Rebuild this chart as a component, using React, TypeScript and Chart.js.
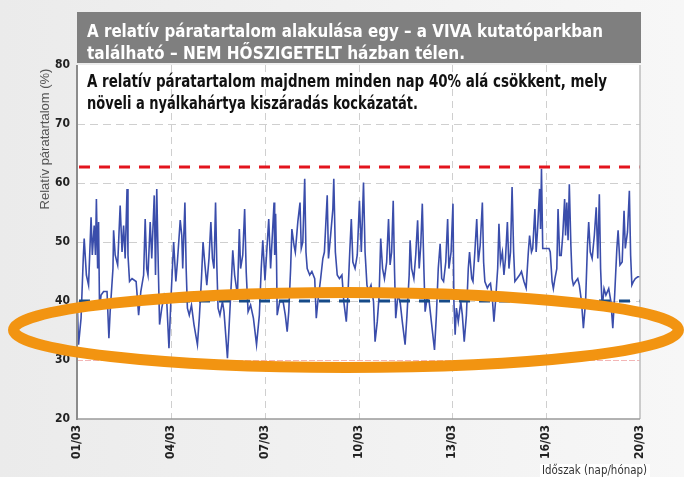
import React, { useEffect, useRef } from "react";
import { Chart, registerables } from "chart.js";

Chart.register(...registerables);

const TITLE_LINES = [
  "A relatív páratartalom alakulása egy – a VIVA kutatóparkban",
  "található – NEM HŐSZIGETELT házban télen.",
];
const SUBTITLE_LINES = [
  "A relatív páratartalom majdnem minden nap 40% alá csökkent, mely",
  "növeli a nyálkahártya kiszáradás kockázatát.",
];
const Y_AXIS_TITLE = "Relatív páratartalom (%)";
const X_AXIS_TITLE = "Időszak (nap/hónap)";

const X_TICK_DAYS = [0, 3, 6, 9, 12, 15, 18];
const X_TICK_LABELS = ["01/03", "04/03", "07/03", "10/03", "13/03", "16/03", "20/03"];
const Y_MIN = 20;
const Y_MAX = 80;
const Y_STEP = 10;

const UPPER_LIMIT = 62.7;
const LOWER_LIMIT = 40;
const MIN_LIMIT = 30;

// highlighted band (data space): centre day, centre %, half-width days, half-height %
const HIGHLIGHT = { day: 8.6, rh: 35.1, halfDays: 10.63, halfRh: 6.36 };

const DAYS = [
  0.0, 0.05, 0.13, 0.2, 0.23, 0.3, 0.37, 0.45, 0.49, 0.55, 0.59, 0.62, 0.66, 0.69, 0.72, 0.77, 0.85, 0.96,
  1.02, 1.06, 1.15, 1.17, 1.22, 1.3, 1.38, 1.44, 1.49, 1.54, 1.6, 1.63, 1.68, 1.76, 1.89, 1.97,
  2.04, 2.13, 2.18, 2.23, 2.27, 2.34, 2.39, 2.47, 2.51, 2.55, 2.6, 2.64, 2.71, 2.79, 2.87, 2.94, 3.0,
  3.09, 3.16, 3.21, 3.3, 3.35, 3.38, 3.45, 3.49, 3.53, 3.59, 3.66, 3.74, 3.85, 3.91, 3.98,
  4.03, 4.09, 4.15, 4.22, 4.28, 4.33, 4.38, 4.43, 4.47, 4.51, 4.57, 4.65, 4.7, 4.81, 4.86, 4.94, 4.98,
  5.04, 5.13, 5.19, 5.23, 5.3, 5.36, 5.41, 5.47, 5.55, 5.64, 5.74, 5.83, 5.89, 5.94, 6.01,
  6.13, 6.19, 6.3, 6.32, 6.35, 6.38, 6.4, 6.48, 6.59, 6.66, 6.72, 6.77, 6.83, 6.87, 6.94, 6.98,
  7.06, 7.13, 7.17, 7.22, 7.28, 7.32, 7.36, 7.44, 7.51, 7.6, 7.65, 7.7, 7.79, 7.86, 7.91,
  8.0, 8.04, 8.11, 8.18, 8.21, 8.26, 8.32, 8.39, 8.47, 8.53, 8.61, 8.66, 8.72, 8.77, 8.82, 8.89, 8.96,
  9.03, 9.09, 9.16, 9.21, 9.27, 9.32, 9.4, 9.48, 9.53, 9.6, 9.66, 9.71, 9.77, 9.83, 9.9, 9.96,
  10.01, 10.06, 10.11, 10.15, 10.19, 10.26, 10.33, 10.4, 10.49, 10.55, 10.62, 10.65, 10.7, 10.77, 10.83, 10.89, 10.94, 10.99,
  11.04, 11.09, 11.13, 11.19, 11.26, 11.34, 11.43, 11.49, 11.55, 11.61, 11.66, 11.72, 11.79, 11.85, 11.89, 11.96,
  12.02, 12.05, 12.09, 12.13, 12.19, 12.27, 12.32, 12.38, 12.45, 12.51, 12.55, 12.62, 12.66, 12.72, 12.78, 12.83, 12.89, 12.96,
  13.0, 13.04, 13.12, 13.17, 13.22, 13.28, 13.33, 13.38, 13.45, 13.49, 13.54, 13.6, 13.65, 13.7, 13.76, 13.81, 13.86, 13.91, 13.96,
  14.0, 14.07, 14.15, 14.21, 14.29, 14.36, 14.43, 14.47, 14.53, 14.57, 14.64, 14.68, 14.72, 14.79, 14.82, 14.85, 14.89, 14.94,
  15.0, 15.09, 15.13, 15.19, 15.23, 15.28, 15.34, 15.38, 15.43, 15.48, 15.53, 15.59, 15.62, 15.66, 15.7, 15.74, 15.79, 15.83, 15.87, 15.94,
  16.01, 16.06, 16.13, 16.19, 16.26, 16.32, 16.36, 16.41, 16.47, 16.54, 16.6, 16.65, 16.7, 16.74, 16.79, 16.85, 16.91,
  17.0, 17.07, 17.13, 17.19, 17.26, 17.3, 17.36, 17.43, 17.49, 17.53, 17.6, 17.66, 17.7, 17.74, 17.79, 17.85, 17.93, 18.0,
];

const RH = [
  41.0, 32.6, 37.1, 47.2, 50.6, 44.4, 42.7, 54.2, 47.8, 52.8, 47.8, 57.3, 45.5, 53.4, 38.8, 41.0, 41.6, 41.6,
  33.7, 38.2, 45.5, 52.0, 47.8, 46.1, 56.2, 48.3, 52.8, 47.2, 59.0, 47.8, 43.3, 43.8, 43.3, 37.6,
  41.6, 44.4, 53.9, 45.5, 44.4, 53.4, 47.2, 57.9, 44.4, 59.0, 45.5, 36.0, 38.8, 41.0, 39.9, 32.0, 39.9,
  50.0, 43.3, 46.6, 53.7, 51.1, 45.5, 56.7, 45.5, 38.8, 37.6, 39.3, 36.0, 32.6, 37.1, 43.8,
  50.0, 46.1, 42.7, 47.2, 53.4, 47.2, 45.5, 56.7, 46.1, 38.8, 37.6, 39.9, 38.2, 30.3, 35.4, 43.8, 48.6,
  44.4, 41.0, 52.2, 45.5, 47.8, 55.6, 44.9, 38.2, 39.3, 37.1, 32.6, 37.6, 45.5, 50.3, 43.5,
  53.9, 45.5, 56.7, 47.8, 54.8, 46.6, 37.6, 39.9, 39.9, 37.6, 34.8, 38.2, 45.5, 52.2, 49.4, 48.3,
  53.4, 56.7, 48.9, 50.0, 60.7, 48.3, 45.5, 44.4, 45.0, 43.8, 37.1, 39.9, 43.8, 47.2, 48.3,
  57.9, 47.2, 51.2, 55.6, 60.7, 48.3, 44.4, 43.8, 44.4, 39.9, 36.5, 40.8, 48.3, 53.9, 46.6, 45.5, 47.8,
  57.0, 48.3, 60.1, 48.3, 42.7, 41.6, 42.7, 39.9, 33.1, 36.5, 41.0, 50.6, 45.5, 43.8, 46.6, 53.9,
  46.1, 48.3, 57.0, 45.5, 37.1, 41.0, 39.9, 36.5, 32.6, 37.6, 44.4, 50.3, 45.5, 43.8, 47.8, 53.7, 45.5, 49.4,
  56.5, 45.5, 38.2, 40.4, 39.9, 36.0, 31.7, 37.6, 45.5, 49.7, 43.8, 43.3, 46.6, 53.9, 45.5, 48.3,
  56.5, 39.9, 34.3, 38.8, 36.5, 39.9, 37.6, 33.1, 37.6, 45.5, 48.3, 43.8, 43.3, 48.3, 53.9, 46.6, 49.4, 56.7,
  46.6, 43.3, 42.2, 42.7, 43.0, 40.4, 36.5, 39.9, 45.5, 53.1, 46.6, 48.3, 44.4, 47.2, 53.4, 45.5, 48.3, 59.3, 48.3,
  43.3, 43.8, 44.4, 45.0, 43.3, 42.2, 48.3, 51.1, 48.3, 48.9, 55.6, 48.3, 51.7, 59.0, 52.2, 62.4, 48.9, 48.9,
  48.9, 48.9, 48.3, 43.3, 42.1, 43.8, 45.5, 55.6, 47.7, 47.7, 51.1, 57.3, 51.1, 56.7, 50.3, 59.8, 49.4, 43.8, 42.7, 43.3,
  43.8, 42.7, 39.9, 35.4, 39.9, 49.4, 53.4, 48.3, 47.2, 51.1, 55.9, 47.2, 58.1, 45.5, 38.8, 42.1, 41.0,
  42.1, 39.9, 35.4, 41.0, 48.9, 52.0, 46.1, 46.6, 55.3, 48.9, 51.7, 58.7, 47.8, 42.7, 43.3, 43.8, 44.1, 44.1,
];

const COND = "'Liberation Sans Narrow', 'DejaVu Sans Condensed', 'Arial Narrow', sans-serif";
const PLAIN = "'Liberation Sans', Arial, sans-serif";

function fitText(
  ctx: CanvasRenderingContext2D,
  text: string,
  x: number,
  y: number,
  width: number,
  font: string,
  color: string
) {
  ctx.save();
  ctx.font = font;
  ctx.fillStyle = color;
  ctx.textAlign = "left";
  ctx.textBaseline = "alphabetic";
  const w = ctx.measureText(text).width;
  ctx.translate(x, y);
  ctx.scale(width / w, 1);
  ctx.fillText(text, 0, 0);
  ctx.restore();
}

const decorPlugin = {
  id: "decor",
  beforeDraw(chart: any) {
    const { ctx, chartArea: a, width, height } = chart;
    ctx.save();
    const g = ctx.createLinearGradient(0, 0, width, 0);
    g.addColorStop(0, "#ebebeb");
    g.addColorStop(1, "#f7f7f7");
    ctx.fillStyle = g;
    ctx.fillRect(0, 0, width, height);
    ctx.fillStyle = "#ffffff";
    ctx.fillRect(a.left, a.top, a.right - a.left, a.bottom - a.top);
    ctx.restore();
  },
  beforeDatasetsDraw(chart: any) {
    const { ctx, chartArea: a, scales } = chart;
    const xs = scales.x;
    const ys = scales.y;
    ctx.save();
    ctx.lineWidth = 1;
    ctx.strokeStyle = "#cfcfcf";
    ctx.setLineDash([7, 5]);
    X_TICK_DAYS.slice(1, -1).forEach((d) => {
      const px = Math.round(xs.getPixelForValue(d)) + 0.5;
      ctx.beginPath();
      ctx.moveTo(px, a.top);
      ctx.lineTo(px, a.bottom);
      ctx.stroke();
    });
    for (let v = Y_MIN + Y_STEP; v < Y_MAX; v += Y_STEP) {
      const py = Math.round(ys.getPixelForValue(v)) + 0.5;
      ctx.strokeStyle = v === MIN_LIMIT ? "#f3b6b6" : "#cfcfcf";
      ctx.setLineDash(v === MIN_LIMIT ? [6, 2] : [8, 5]);
      ctx.beginPath();
      ctx.moveTo(a.left, py);
      ctx.lineTo(a.right, py);
      ctx.stroke();
    }
    ctx.restore();
  },
  afterDatasetsDraw(chart: any) {
    const { ctx, chartArea: a, scales } = chart;
    const ys = scales.y;
    ctx.save();
    ctx.lineWidth = 3;
    ctx.setLineDash([11, 9]);
    ctx.strokeStyle = "#e3141d";
    let py = ys.getPixelForValue(UPPER_LIMIT);
    ctx.beginPath();
    ctx.moveTo(a.left + 2, py);
    ctx.lineTo(a.right, py);
    ctx.stroke();
    ctx.strokeStyle = "#164b88";
    py = ys.getPixelForValue(LOWER_LIMIT);
    ctx.beginPath();
    ctx.moveTo(a.left + 2, py);
    ctx.lineTo(a.right, py);
    ctx.stroke();
    ctx.restore();
  },
  afterDraw(chart: any) {
    const { ctx, chartArea: a, scales } = chart;
    const xs = scales.x;
    const ys = scales.y;
    ctx.save();
    // axis frame
    ctx.setLineDash([]);
    ctx.strokeStyle = "#bdbdbd";
    ctx.lineWidth = 1.5;
    ctx.beginPath();
    ctx.moveTo(a.right, a.top);
    ctx.lineTo(a.right, a.bottom);
    ctx.stroke();
    ctx.strokeStyle = "#9a9a9a";
    ctx.beginPath();
    ctx.moveTo(a.left, a.bottom);
    ctx.lineTo(a.right, a.bottom);
    ctx.stroke();
    ctx.strokeStyle = "#8c8c8c";
    ctx.lineWidth = 2;
    ctx.beginPath();
    ctx.moveTo(a.left, a.top);
    ctx.lineTo(a.left, a.bottom + 1);
    ctx.stroke();

    // title box
    ctx.fillStyle = "#7f7f7f";
    ctx.fillRect(a.left, 12, a.right + 1 - a.left, 51);
    fitText(ctx, TITLE_LINES[0], 87, 37, 516, `bold 18px ${COND}`, "#ffffff");
    fitText(ctx, TITLE_LINES[1], 87, 59, 378, `bold 18px ${COND}`, "#ffffff");
    fitText(ctx, SUBTITLE_LINES[0], 87, 87, 520, `bold 17px ${COND}`, "#111111");
    fitText(ctx, SUBTITLE_LINES[1], 87, 109, 331, `bold 17px ${COND}`, "#111111");

    // y axis title
    ctx.save();
    ctx.translate(49, 139);
    ctx.rotate(-Math.PI / 2);
    ctx.font = `13px ${PLAIN}`;
    ctx.fillStyle = "#555555";
    ctx.textAlign = "center";
    ctx.textBaseline = "alphabetic";
    ctx.fillText(Y_AXIS_TITLE, 0, 0);
    ctx.restore();

    // x axis title
    ctx.fillStyle = "#ffffff";
    ctx.fillRect(540, 464, 110, 13);
    fitText(ctx, X_AXIS_TITLE, 542, 474, 105, `12px ${COND}`, "#333333");

    // highlight ellipse
    const cx = xs.getPixelForValue(HIGHLIGHT.day);
    const cy = ys.getPixelForValue(HIGHLIGHT.rh);
    const rx = xs.getPixelForValue(HIGHLIGHT.day + HIGHLIGHT.halfDays) - cx;
    const ry = cy - ys.getPixelForValue(HIGHLIGHT.rh + HIGHLIGHT.halfRh);
    ctx.strokeStyle = "#f29411";
    ctx.lineWidth = 11;
    ctx.beginPath();
    ctx.ellipse(cx, cy, rx, ry, 0, 0, Math.PI * 2);
    ctx.stroke();
    ctx.restore();
  },
};

export default function App() {
  const ref = useRef<HTMLCanvasElement | null>(null);
  useEffect(() => {
    if (!ref.current) return;
    const chart = new Chart(ref.current, {
      type: "line",
      data: {
        datasets: [
          {
            data: DAYS.map((d, i) => ({ x: d, y: RH[i] })),
            borderColor: "#3a4dab",
            borderWidth: 1.6,
            pointRadius: 0,
            tension: 0,
            fill: false,
          },
        ],
      },
      options: {
        animation: false,
        responsive: false,
        devicePixelRatio: 1,
        layout: { padding: { left: 0, right: 44, top: 65, bottom: 0 } },
        plugins: { legend: { display: false }, tooltip: { enabled: false }, title: { display: false } },
        scales: {
          x: {
            type: "linear",
            min: X_TICK_DAYS[0],
            max: X_TICK_DAYS[X_TICK_DAYS.length - 1],
            afterBuildTicks: (s: any) => {
              s.ticks = X_TICK_DAYS.map((v) => ({ value: v }));
            },
            afterFit: (s: any) => {
              s.height = 58;
            },
            grid: { display: false, drawTicks: false },
            border: { display: false },
            ticks: {
              autoSkip: false,
              minRotation: 90,
              maxRotation: 90,
              padding: 6,
              color: "#222222",
              font: { family: COND, size: 12, weight: "bold" },
              callback: (v: any) => {
                const i = X_TICK_DAYS.indexOf(Number(v));
                return i >= 0 ? X_TICK_LABELS[i] : "";
              },
            },
          },
          y: {
            min: Y_MIN,
            max: Y_MAX,
            afterFit: (s: any) => {
              s.width = 77;
            },
            grid: { display: false, drawTicks: false },
            border: { display: false },
            ticks: {
              stepSize: Y_STEP,
              padding: 7,
              color: "#222222",
              font: { family: COND, size: 12, weight: "bold" },
            },
          },
        },
      },
      plugins: [decorPlugin],
    } as any);
    return () => chart.destroy();
  }, []);
  return (
    <div style={{ position: "fixed", left: 0, top: 0, width: 684, height: 477 }}>
      <canvas ref={ref} width={684} height={477} style={{ display: "block" }} />
    </div>
  );
}
